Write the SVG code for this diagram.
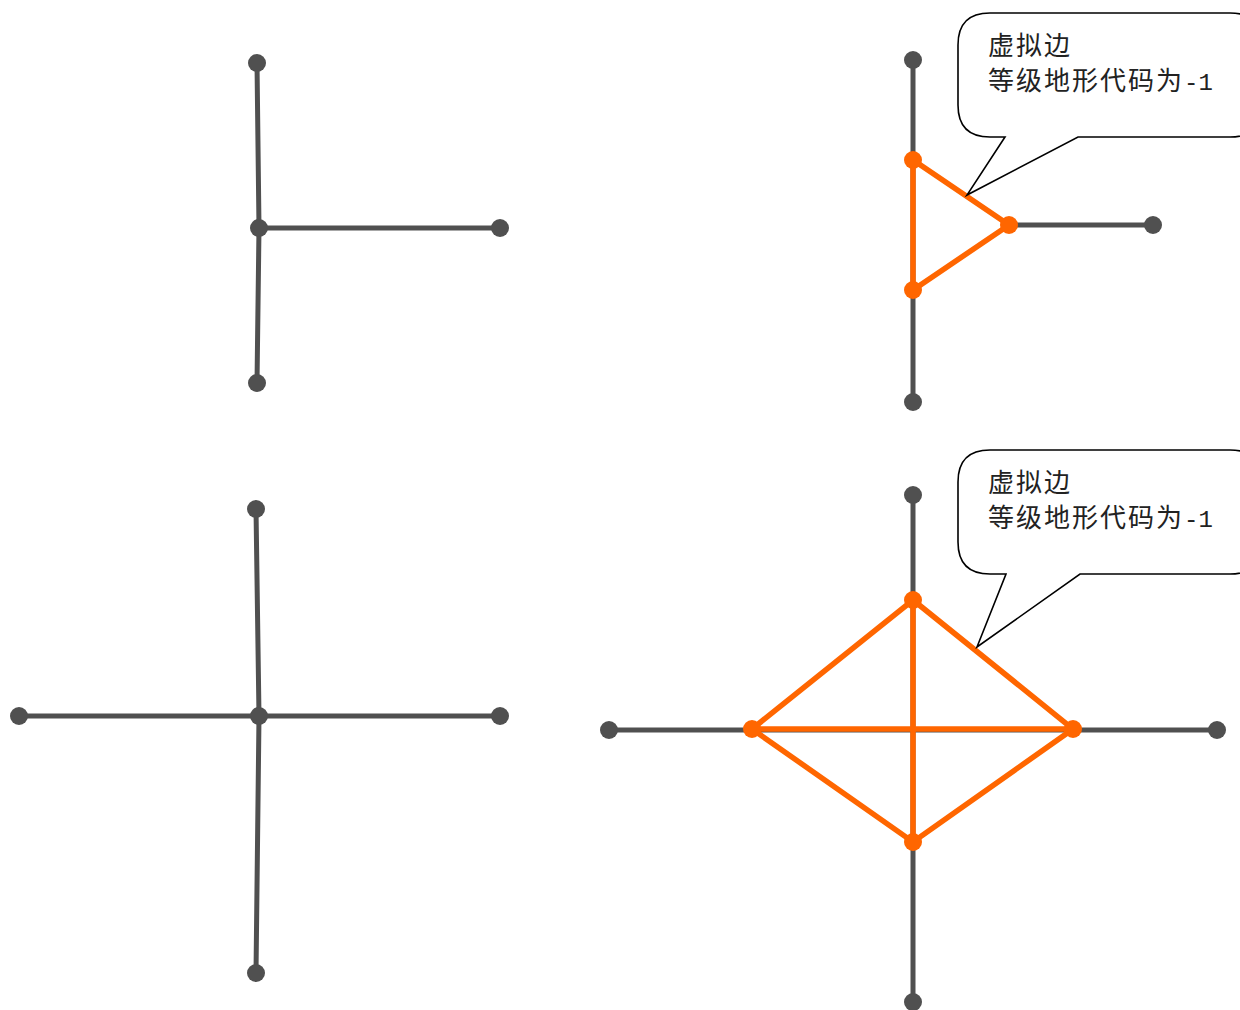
<svg xmlns="http://www.w3.org/2000/svg" width="1240" height="1010" viewBox="0 0 1240 1010">
<style>
.g{stroke:#505050;stroke-width:5;stroke-linecap:round;fill:none}
.o{stroke:#ff6600;stroke-width:5.5;stroke-linecap:round;fill:none}
.gn{fill:#505050}
.on{fill:#ff6600}
.call{fill:#fff;stroke:#000;stroke-width:1.6}
.t{font-family:"Liberation Serif","Noto Sans CJK SC",serif;font-size:26px;fill:#222;letter-spacing:2px}
.m{font-family:"Liberation Mono",monospace;font-size:24px;letter-spacing:0}
</style>
<rect width="1240" height="1010" fill="#fff"/>
<g id="connectors">
<path class="g" d="M257,63 L259,228 L257,383 M259,228 H500"/>
<path class="g" d="M913,60 V402 M1009,225 H1153"/>
<path class="o" d="M913,160 V290 L1009,225 Z"/>
<path class="g" d="M256,509 L259,716 L256,973 M19,716 H500"/>
<path class="g" d="M913,495 V1002 M609,730 H1217"/>
<path class="o" d="M913,600 L1073,729 L913,842 L752,729 Z M913,600 V842 M752,729 H1073"/>
</g>
<g id="n1"><circle class="gn" cx="257" cy="63" r="9"/></g>
<g id="n2"><circle class="gn" cx="259" cy="228" r="9"/></g>
<g id="n3"><circle class="gn" cx="500" cy="228" r="9"/></g>
<g id="n4"><circle class="gn" cx="257" cy="383" r="9"/></g>
<g id="n5"><circle class="gn" cx="913" cy="60" r="9"/></g>
<g id="n6"><circle class="gn" cx="913" cy="402" r="9"/></g>
<g id="n7"><circle class="gn" cx="1153" cy="225" r="9"/></g>
<g id="n8"><circle class="on" cx="913" cy="160" r="9"/></g>
<g id="n9"><circle class="on" cx="913" cy="290" r="9"/></g>
<g id="n10"><circle class="on" cx="1009" cy="225" r="9"/></g>
<g id="n11"><circle class="gn" cx="256" cy="509" r="9"/></g>
<g id="n12"><circle class="gn" cx="259" cy="716" r="9"/></g>
<g id="n13"><circle class="gn" cx="19" cy="716" r="9"/></g>
<g id="n14"><circle class="gn" cx="500" cy="716" r="9"/></g>
<g id="n15"><circle class="gn" cx="256" cy="973" r="9"/></g>
<g id="n16"><circle class="gn" cx="913" cy="495" r="9"/></g>
<g id="n17"><circle class="gn" cx="913" cy="1002" r="9"/></g>
<g id="n18"><circle class="gn" cx="609" cy="730" r="9"/></g>
<g id="n19"><circle class="gn" cx="1217" cy="730" r="9"/></g>
<g id="n20"><circle class="on" cx="913" cy="600" r="9"/></g>
<g id="n21"><circle class="on" cx="752" cy="729" r="9"/></g>
<g id="n22"><circle class="on" cx="1073" cy="729" r="9"/></g>
<g id="n23"><circle class="on" cx="913" cy="842" r="9"/></g>
<g id="callout1">
<path class="call" d="M990,13 H1230 Q1262,13 1262,45 V105 Q1262,137 1230,137 H1078 L967,195 L1005,137 H990 Q958,137 958,105 V45 Q958,13 990,13 Z"/>
<text class="t" x="988" y="55">虚拟边</text>
<text class="t" x="988" y="90">等级地形代码为<tspan class="m">-1</tspan></text>
</g>
<g id="callout2">
<path class="call" d="M990,450 H1230 Q1262,450 1262,482 V542 Q1262,574 1230,574 H1080 L977,647 L1006,574 H990 Q958,574 958,542 V482 Q958,450 990,450 Z"/>
<text class="t" x="988" y="492">虚拟边</text>
<text class="t" x="988" y="527">等级地形代码为<tspan class="m">-1</tspan></text>
</g>
</svg>
